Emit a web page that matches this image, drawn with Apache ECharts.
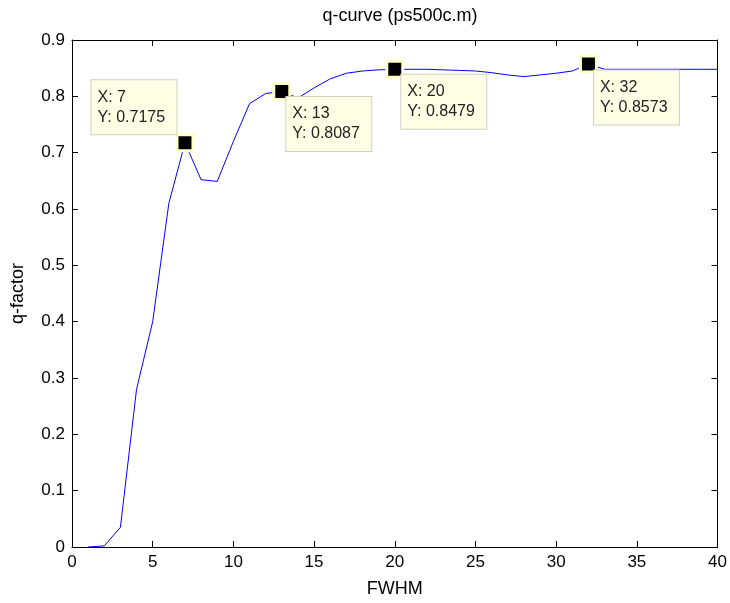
<!DOCTYPE html>
<html>
<head>
<meta charset="utf-8">
<script src="https://cdn.jsdelivr.net/npm/echarts@6/dist/echarts.min.js"></script>
<style>
  html, body { margin: 0; padding: 0; background: #fff; }
  #main { width: 730px; height: 603px; }
</style>
</head>
<body>
<div id="main"></div>
<script>
// q-factor vs FWHM, sampled at integer FWHM
var fwhm = [1, 2, 3, 4, 5, 6, 7, 8, 9, 10,
            11, 12, 13, 14, 15, 16, 17, 18, 19, 20,
            21, 22, 23, 24, 25, 26, 27, 28, 29, 30,
            31, 32, 33, 34, 35, 36, 37, 38, 39, 40];
var qfactor = [0, 0.002, 0.035, 0.28, 0.40, 0.61, 0.7175, 0.652, 0.649, 0.72,
               0.787, 0.805, 0.8087, 0.797, 0.815, 0.831, 0.841, 0.845, 0.847, 0.8479,
               0.848, 0.848, 0.847, 0.846, 0.845, 0.842, 0.838, 0.835, 0.838, 0.841,
               0.845, 0.8573, 0.848, 0.848, 0.848, 0.848, 0.848, 0.848, 0.848, 0.848];

// data tips
var tipX = [7, 13, 20, 32];
var tipY = ['0.7175', '0.8087', '0.8479', '0.8573'];
var xTicks = [0, 5, 10, 15, 20, 25, 30, 35, 40];
var yTicks = [0, 0.1, 0.2, 0.3, 0.4, 0.5, 0.6, 0.7, 0.8, 0.9];

var tipOffsets = [[-84, -53], [14, 15], [16, 15], [15, 16]];

var font = 'Liberation Sans';
var chart = echarts.init(document.getElementById('main'));

var lineData = fwhm.map(function (x, i) { return [x, qfactor[i]]; });
var tipData = tipX.map(function (x, i) {
    return {
        value: [x, parseFloat(tipY[i])],
        label: { position: tipOffsets[i] }
    };
});

function axisCommon(show) {
    return {
        axisLine: { show: true, onZero: false, lineStyle: { color: '#000', width: 1 } },
        axisTick: { show: true, inside: true, length: 6, lineStyle: { color: '#000' } },
        axisLabel: { show: show, color: '#000', fontFamily: font, fontSize: 17, margin: 7 },
        splitLine: { show: false }
    };
}

var xBottom = Object.assign({ type: 'value', position: 'bottom', min: xTicks[0], max: xTicks[xTicks.length - 1], interval: 5,
    name: 'FWHM', nameLocation: 'middle', nameGap: 33,
    nameTextStyle: { color: '#000', fontFamily: font, fontSize: 18 } }, axisCommon(true));
var xTop = Object.assign({ type: 'value', position: 'top', min: 0, max: 40, interval: 5 }, axisCommon(false));
var yLeft = Object.assign({ type: 'value', position: 'left', min: yTicks[0], max: 0.9, interval: 0.1,
    name: 'q-factor', nameLocation: 'middle', nameGap: 45,
    nameTextStyle: { color: '#000', fontFamily: font, fontSize: 18 } }, axisCommon(true));
var yRight = Object.assign({ type: 'value', position: 'right', min: 0, max: 0.9, interval: 0.1 }, axisCommon(false));

chart.setOption({
    animation: false,
    backgroundColor: '#fff',
    title: {
        text: 'q-curve (ps500c.m)',
        left: 395, textAlign: 'center', top: 2,
        textStyle: { color: '#000', fontFamily: font, fontSize: 18, fontWeight: 'normal' }
    },
    grid: { left: 72, right: 12, top: 40, bottom: 54 },
    xAxis: [xBottom, xTop],
    yAxis: [yLeft, yRight],
    series: [
        {
            type: 'line',
            data: lineData,
            showSymbol: false,
            lineStyle: { color: '#0000ff', width: 1 },
            z: 2
        },
        {
            type: 'scatter',
            data: tipData,
            symbol: 'rect',
            symbolSize: 16,
            itemStyle: { color: '#000', borderColor: '#ffffcc', borderWidth: 3, opacity: 1 },
            label: {
                show: true,
                formatter: function (p) { return 'X: ' + p.value[0] + '\nY: ' + tipY[p.dataIndex]; },
                color: '#222',
                fontFamily: font,
                fontSize: 16,
                lineHeight: 20,
                width: 71,
                padding: [7, 8, 7, 6],
                backgroundColor: '#ffffe6',
                borderColor: '#cfcfc4',
                borderWidth: 1,
                align: 'left',
                verticalAlign: 'top'
            },
            z: 3
        }
    ]
});
</script>
</body>
</html>
